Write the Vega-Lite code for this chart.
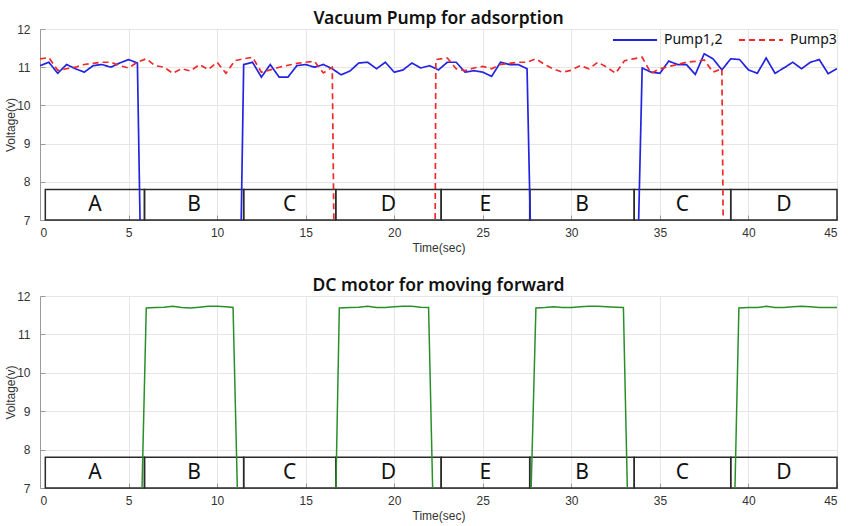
{
  "$schema": "https://vega.github.io/schema/vega-lite/v6.json",
  "background": "white",
  "padding": {"left": 4, "top": 9, "right": 0, "bottom": 2},
  "spacing": 23,
  "config": {
    "view": {"stroke": null},
    "font": "Liberation Sans",
    "axis": {
      "labelFont": "Liberation Sans",
      "labelFontSize": 12,
      "labelColor": "#333333",
      "labelOverlap": false,
      "titleFont": "Liberation Sans",
      "titleFontSize": 12,
      "titleFontWeight": "normal",
      "titleColor": "#333333",
      "gridColor": "#e6e6e6",
      "gridWidth": 1,
      "domainColor": "#9a9a9a",
      "tickColor": "#9a9a9a",
      "tickSize": -5,
      "labelPadding": 12
    },
    "title": {
      "font": "Noto Sans",
      "fontSize": 17.5,
      "fontWeight": 600,
      "color": "#111111",
      "anchor": "middle",
      "offset": -4
    },
    "legend": {
      "orient": "none",
      "legendX": 572,
      "legendY": -12,
      "direction": "horizontal",
      "padding": 0,
      "symbolType": "stroke",
      "symbolSize": 1936,
      "symbolStrokeWidth": 2,
      "labelFont": "Noto Sans",
      "labelFontSize": 14,
      "labelColor": "#111111",
      "labelOffset": 6,
      "columnPadding": 12,
      "title": null
    }
  },
  "datasets": {
    "boxes": [
      {"start": 0.3, "end": 5.9, "mid": 3.1, "label": "A"},
      {"start": 5.9, "end": 11.5, "mid": 8.7, "label": "B"},
      {"start": 11.5, "end": 16.7, "mid": 14.1, "label": "C"},
      {"start": 16.7, "end": 22.65, "mid": 19.675, "label": "D"},
      {"start": 22.65, "end": 27.65, "mid": 25.15, "label": "E"},
      {"start": 27.65, "end": 33.55, "mid": 30.6, "label": "B"},
      {"start": 33.55, "end": 39.0, "mid": 36.275, "label": "C"},
      {"start": 39.0, "end": 45.0, "mid": 42.0, "label": "D"}
    ],
    "pump": [
      {"t": 0, "v": 11.04, "series": "Pump1,2"},
      {"t": 0.5, "v": 11.13, "series": "Pump1,2"},
      {"t": 1, "v": 10.84, "series": "Pump1,2"},
      {"t": 1.5, "v": 11.07, "series": "Pump1,2"},
      {"t": 2, "v": 10.96, "series": "Pump1,2"},
      {"t": 2.5, "v": 10.87, "series": "Pump1,2"},
      {"t": 3, "v": 11.04, "series": "Pump1,2"},
      {"t": 3.5, "v": 11.07, "series": "Pump1,2"},
      {"t": 4, "v": 11.0, "series": "Pump1,2"},
      {"t": 4.5, "v": 11.11, "series": "Pump1,2"},
      {"t": 5, "v": 11.2, "series": "Pump1,2"},
      {"t": 5.5, "v": 11.11, "series": "Pump1,2"},
      {"t": 5.9, "v": 0, "series": "Pump1,2"},
      {"t": 11.12, "v": 0, "series": "Pump1,2"},
      {"t": 11.5, "v": 11.07, "series": "Pump1,2"},
      {"t": 12, "v": 11.13, "series": "Pump1,2"},
      {"t": 12.5, "v": 10.74, "series": "Pump1,2"},
      {"t": 13, "v": 11.07, "series": "Pump1,2"},
      {"t": 13.5, "v": 10.74, "series": "Pump1,2"},
      {"t": 14, "v": 10.74, "series": "Pump1,2"},
      {"t": 14.5, "v": 11.04, "series": "Pump1,2"},
      {"t": 15, "v": 11.07, "series": "Pump1,2"},
      {"t": 15.5, "v": 11.0, "series": "Pump1,2"},
      {"t": 16, "v": 11.07, "series": "Pump1,2"},
      {"t": 16.5, "v": 10.96, "series": "Pump1,2"},
      {"t": 17, "v": 10.8, "series": "Pump1,2"},
      {"t": 17.5, "v": 10.9, "series": "Pump1,2"},
      {"t": 18, "v": 11.11, "series": "Pump1,2"},
      {"t": 18.5, "v": 11.13, "series": "Pump1,2"},
      {"t": 19, "v": 10.96, "series": "Pump1,2"},
      {"t": 19.5, "v": 11.13, "series": "Pump1,2"},
      {"t": 20, "v": 10.87, "series": "Pump1,2"},
      {"t": 20.5, "v": 10.93, "series": "Pump1,2"},
      {"t": 21, "v": 11.11, "series": "Pump1,2"},
      {"t": 21.5, "v": 10.98, "series": "Pump1,2"},
      {"t": 22, "v": 11.04, "series": "Pump1,2"},
      {"t": 22.5, "v": 10.93, "series": "Pump1,2"},
      {"t": 23, "v": 11.13, "series": "Pump1,2"},
      {"t": 23.5, "v": 11.13, "series": "Pump1,2"},
      {"t": 24, "v": 10.87, "series": "Pump1,2"},
      {"t": 24.5, "v": 10.91, "series": "Pump1,2"},
      {"t": 25, "v": 10.87, "series": "Pump1,2"},
      {"t": 25.5, "v": 10.76, "series": "Pump1,2"},
      {"t": 26, "v": 11.13, "series": "Pump1,2"},
      {"t": 26.5, "v": 11.07, "series": "Pump1,2"},
      {"t": 27, "v": 11.07, "series": "Pump1,2"},
      {"t": 27.5, "v": 10.96, "series": "Pump1,2"},
      {"t": 28, "v": 0, "series": "Pump1,2"},
      {"t": 33.45, "v": 0, "series": "Pump1,2"},
      {"t": 34, "v": 10.98, "series": "Pump1,2"},
      {"t": 34.5, "v": 10.87, "series": "Pump1,2"},
      {"t": 35, "v": 10.84, "series": "Pump1,2"},
      {"t": 35.5, "v": 11.16, "series": "Pump1,2"},
      {"t": 36, "v": 11.07, "series": "Pump1,2"},
      {"t": 36.5, "v": 11.07, "series": "Pump1,2"},
      {"t": 37, "v": 10.81, "series": "Pump1,2"},
      {"t": 37.5, "v": 11.35, "series": "Pump1,2"},
      {"t": 38, "v": 11.22, "series": "Pump1,2"},
      {"t": 38.5, "v": 10.93, "series": "Pump1,2"},
      {"t": 39, "v": 11.22, "series": "Pump1,2"},
      {"t": 39.5, "v": 11.2, "series": "Pump1,2"},
      {"t": 40, "v": 10.93, "series": "Pump1,2"},
      {"t": 40.5, "v": 10.84, "series": "Pump1,2"},
      {"t": 41, "v": 11.24, "series": "Pump1,2"},
      {"t": 41.5, "v": 10.84, "series": "Pump1,2"},
      {"t": 42, "v": 10.98, "series": "Pump1,2"},
      {"t": 42.5, "v": 11.13, "series": "Pump1,2"},
      {"t": 43, "v": 10.96, "series": "Pump1,2"},
      {"t": 43.5, "v": 11.13, "series": "Pump1,2"},
      {"t": 44, "v": 11.2, "series": "Pump1,2"},
      {"t": 44.5, "v": 10.83, "series": "Pump1,2"},
      {"t": 45, "v": 10.96, "series": "Pump1,2"},
      {"t": 0, "v": 11.22, "series": "Pump3"},
      {"t": 0.5, "v": 11.25, "series": "Pump3"},
      {"t": 1, "v": 10.92, "series": "Pump3"},
      {"t": 1.5, "v": 10.96, "series": "Pump3"},
      {"t": 2, "v": 11.0, "series": "Pump3"},
      {"t": 2.5, "v": 11.07, "series": "Pump3"},
      {"t": 3, "v": 11.1, "series": "Pump3"},
      {"t": 3.5, "v": 11.13, "series": "Pump3"},
      {"t": 4, "v": 11.13, "series": "Pump3"},
      {"t": 4.5, "v": 11.04, "series": "Pump3"},
      {"t": 5, "v": 10.98, "series": "Pump3"},
      {"t": 5.5, "v": 11.13, "series": "Pump3"},
      {"t": 6, "v": 11.22, "series": "Pump3"},
      {"t": 6.5, "v": 11.04, "series": "Pump3"},
      {"t": 7, "v": 11.0, "series": "Pump3"},
      {"t": 7.5, "v": 10.84, "series": "Pump3"},
      {"t": 8, "v": 10.96, "series": "Pump3"},
      {"t": 8.5, "v": 10.9, "series": "Pump3"},
      {"t": 9, "v": 11.07, "series": "Pump3"},
      {"t": 9.5, "v": 10.94, "series": "Pump3"},
      {"t": 10, "v": 11.13, "series": "Pump3"},
      {"t": 10.5, "v": 10.84, "series": "Pump3"},
      {"t": 11, "v": 11.17, "series": "Pump3"},
      {"t": 11.5, "v": 11.22, "series": "Pump3"},
      {"t": 12, "v": 11.26, "series": "Pump3"},
      {"t": 12.5, "v": 10.87, "series": "Pump3"},
      {"t": 13, "v": 10.93, "series": "Pump3"},
      {"t": 13.5, "v": 11.0, "series": "Pump3"},
      {"t": 14, "v": 11.05, "series": "Pump3"},
      {"t": 14.5, "v": 11.1, "series": "Pump3"},
      {"t": 15, "v": 11.13, "series": "Pump3"},
      {"t": 15.5, "v": 11.15, "series": "Pump3"},
      {"t": 16, "v": 10.85, "series": "Pump3"},
      {"t": 16.5, "v": 11.0, "series": "Pump3"},
      {"t": 16.75, "v": 0, "series": "Pump3"},
      {"t": 22.25, "v": 0, "series": "Pump3"},
      {"t": 22.35, "v": 11.2, "series": "Pump3"},
      {"t": 23, "v": 11.24, "series": "Pump3"},
      {"t": 23.5, "v": 10.96, "series": "Pump3"},
      {"t": 24, "v": 10.91, "series": "Pump3"},
      {"t": 24.5, "v": 10.98, "series": "Pump3"},
      {"t": 25, "v": 11.02, "series": "Pump3"},
      {"t": 25.5, "v": 10.96, "series": "Pump3"},
      {"t": 26, "v": 11.07, "series": "Pump3"},
      {"t": 26.5, "v": 11.1, "series": "Pump3"},
      {"t": 27, "v": 11.13, "series": "Pump3"},
      {"t": 27.5, "v": 11.13, "series": "Pump3"},
      {"t": 28, "v": 11.22, "series": "Pump3"},
      {"t": 28.5, "v": 11.07, "series": "Pump3"},
      {"t": 29, "v": 10.95, "series": "Pump3"},
      {"t": 29.5, "v": 10.87, "series": "Pump3"},
      {"t": 30, "v": 10.92, "series": "Pump3"},
      {"t": 30.5, "v": 11.04, "series": "Pump3"},
      {"t": 31, "v": 10.96, "series": "Pump3"},
      {"t": 31.5, "v": 11.13, "series": "Pump3"},
      {"t": 32, "v": 11.0, "series": "Pump3"},
      {"t": 32.5, "v": 10.84, "series": "Pump3"},
      {"t": 33, "v": 11.17, "series": "Pump3"},
      {"t": 33.5, "v": 11.22, "series": "Pump3"},
      {"t": 34, "v": 11.26, "series": "Pump3"},
      {"t": 34.5, "v": 10.84, "series": "Pump3"},
      {"t": 35, "v": 10.96, "series": "Pump3"},
      {"t": 35.5, "v": 11.02, "series": "Pump3"},
      {"t": 36, "v": 11.07, "series": "Pump3"},
      {"t": 36.5, "v": 11.13, "series": "Pump3"},
      {"t": 37, "v": 11.15, "series": "Pump3"},
      {"t": 37.5, "v": 11.19, "series": "Pump3"},
      {"t": 38, "v": 10.87, "series": "Pump3"},
      {"t": 38.5, "v": 10.96, "series": "Pump3"},
      {"t": 38.7, "v": 0, "series": "Pump3"},
      {"t": 45, "v": 0, "series": "Pump3"}
    ],
    "motor": [
      {"t": 0, "v": 0}, {"t": 5.4, "v": 0},
      {"t": 6, "v": 11.69}, {"t": 6.5, "v": 11.7}, {"t": 7, "v": 11.71}, {"t": 7.5, "v": 11.73},
      {"t": 8, "v": 11.7}, {"t": 8.5, "v": 11.69}, {"t": 9, "v": 11.71}, {"t": 9.5, "v": 11.73},
      {"t": 10, "v": 11.73}, {"t": 10.5, "v": 11.72}, {"t": 10.9, "v": 11.7},
      {"t": 11.5, "v": 0}, {"t": 16.42, "v": 0},
      {"t": 16.9, "v": 11.69}, {"t": 17.5, "v": 11.7}, {"t": 18, "v": 11.71}, {"t": 18.5, "v": 11.73},
      {"t": 19, "v": 11.7}, {"t": 19.5, "v": 11.7}, {"t": 20, "v": 11.72}, {"t": 20.5, "v": 11.73},
      {"t": 21, "v": 11.73}, {"t": 21.5, "v": 11.71}, {"t": 21.94, "v": 11.7},
      {"t": 22.51, "v": 0}, {"t": 27.33, "v": 0},
      {"t": 28, "v": 11.69}, {"t": 28.5, "v": 11.7}, {"t": 29, "v": 11.72}, {"t": 29.5, "v": 11.7},
      {"t": 30, "v": 11.7}, {"t": 30.5, "v": 11.72}, {"t": 31, "v": 11.73}, {"t": 31.5, "v": 11.73},
      {"t": 32, "v": 11.72}, {"t": 32.5, "v": 11.71}, {"t": 32.94, "v": 11.7},
      {"t": 33.49, "v": 0}, {"t": 38.91, "v": 0},
      {"t": 39.46, "v": 11.69}, {"t": 40, "v": 11.7}, {"t": 40.5, "v": 11.7}, {"t": 41, "v": 11.73},
      {"t": 41.5, "v": 11.7}, {"t": 42, "v": 11.7}, {"t": 42.5, "v": 11.72}, {"t": 43, "v": 11.73},
      {"t": 43.5, "v": 11.72}, {"t": 44, "v": 11.7}, {"t": 44.5, "v": 11.7}, {"t": 45, "v": 11.7}
    ]
  },
  "vconcat": [
    {
      "width": 797,
      "height": 191,
      "title": {"text": "Vacuum Pump for adsorption"},
      "layer": [
        {
          "data": {"name": "boxes"},
          "mark": {"type": "rect", "fill": null, "fillOpacity": 0, "stroke": "#2a2a2a", "strokeWidth": 1.5},
          "encoding": {
            "x": {"field": "start", "type": "quantitative", "scale": {"domain": [0, 45], "nice": false},
              "axis": {"title": "Time(sec)", "values": [0, 5, 10, 15, 20, 25, 30, 35, 40, 45], "tickCount": 20, "format": "d", "titlePadding": 4}},
            "x2": {"field": "end"},
            "y": {"datum": 7, "type": "quantitative", "scale": {"domain": [7, 12], "nice": false},
              "axis": {"title": "Voltage(v)", "values": [7, 8, 9, 10, 11, 12], "tickCount": 12, "format": "d", "grid": true, "labelPadding": 15, "titleX": -23}},
            "y2": {"datum": 7.8}
          }
        },
        {
          "data": {"name": "boxes"},
          "mark": {"type": "text", "font": "Noto Sans", "fontSize": 21, "color": "#111111", "baseline": "middle", "align": "center"},
          "encoding": {
            "x": {"field": "mid", "type": "quantitative"},
            "y": {"datum": 7.38, "type": "quantitative"},
            "text": {"field": "label"}
          }
        },
        {
          "data": {"name": "pump"},
          "mark": {"type": "line", "clip": true, "strokeWidth": 1.7},
          "encoding": {
            "x": {"field": "t", "type": "quantitative"},
            "y": {"field": "v", "type": "quantitative"},
            "color": {"field": "series", "type": "nominal",
              "scale": {"domain": ["Pump1,2", "Pump3"], "range": ["#2424e0", "#ee2a2a"]},
              "legend": {"title": null}},
            "strokeDash": {"field": "series", "type": "nominal",
              "scale": {"domain": ["Pump1,2", "Pump3"], "range": [[1, 0], [6, 4]]},
              "legend": {"title": null}}
          }
        }
      ]
    },
    {
      "width": 797,
      "height": 192,
      "title": {"text": "DC motor for moving forward"},
      "layer": [
        {
          "data": {"name": "boxes"},
          "mark": {"type": "rect", "fill": null, "fillOpacity": 0, "stroke": "#2a2a2a", "strokeWidth": 1.5},
          "encoding": {
            "x": {"field": "start", "type": "quantitative", "scale": {"domain": [0, 45], "nice": false},
              "axis": {"title": "Time(sec)", "values": [0, 5, 10, 15, 20, 25, 30, 35, 40, 45], "tickCount": 20, "format": "d", "titlePadding": 4}},
            "x2": {"field": "end"},
            "y": {"datum": 7, "type": "quantitative", "scale": {"domain": [7, 12], "nice": false},
              "axis": {"title": "Voltage(v)", "values": [7, 8, 9, 10, 11, 12], "tickCount": 12, "format": "d", "grid": true, "labelPadding": 15, "titleX": -23}},
            "y2": {"datum": 7.8}
          }
        },
        {
          "data": {"name": "boxes"},
          "mark": {"type": "text", "font": "Noto Sans", "fontSize": 21, "color": "#111111", "baseline": "middle", "align": "center"},
          "encoding": {
            "x": {"field": "mid", "type": "quantitative"},
            "y": {"datum": 7.38, "type": "quantitative"},
            "text": {"field": "label"}
          }
        },
        {
          "data": {"name": "motor"},
          "mark": {"type": "line", "clip": true, "strokeWidth": 1.5, "color": "#2a8f2a"},
          "encoding": {
            "x": {"field": "t", "type": "quantitative"},
            "y": {"field": "v", "type": "quantitative"}
          }
        }
      ]
    }
  ]
}
